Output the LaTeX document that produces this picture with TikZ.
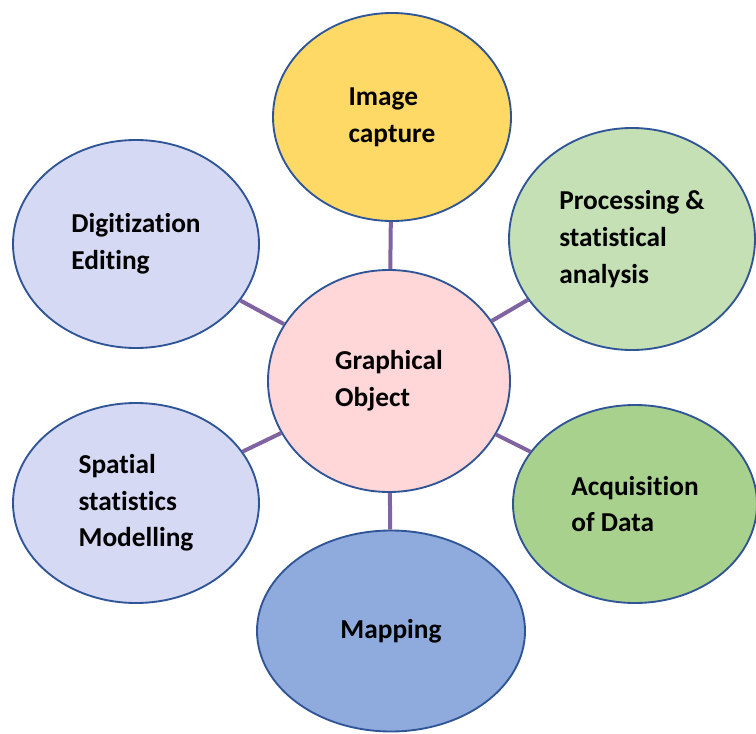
\documentclass[tikz,border=0pt]{standalone}
\usepackage{fontspec}
\setmainfont{Carlito}[RawFeature={-liga}]
\usetikzlibrary{shapes.geometric}
\definecolor{rimblue}{HTML}{2F5597}
\definecolor{linkpurple}{HTML}{8064A2}
\definecolor{hubpink}{HTML}{FFD7D9}
\definecolor{capyellow}{HTML}{FFD966}
\definecolor{lavender}{HTML}{D5D9F3}
\definecolor{palegreen}{HTML}{C5E0B4}
\definecolor{midgreen}{HTML}{A9D18E}
\definecolor{mapblue}{HTML}{8FAADC}

\tikzset{
  bubble/.style={ellipse, draw=rimblue, line width=1.4pt, inner sep=0pt, align=left,
    font=\bfseries\fontsize{20.5}{27.5}\selectfont},
  link/.style={draw=linkpurple, line width=3pt},
}

\begin{document}
\begin{tikzpicture}[x=0.75pt, y=-0.75pt]
	\useasboundingbox (0,0) rectangle (756,734);
	% hub and the six topics
	\node[bubble, fill=hubpink, minimum width=181.5pt, minimum height=166.5pt] (graph) at (389,381) {Graphical\\Object};
	\node[bubble, fill=capyellow, minimum width=178.5pt, minimum height=156pt] (capture) at (392,117) {Image\\capture};
	\node[bubble, fill=lavender, minimum width=184.5pt, minimum height=156pt] (digit) at (136,244) {Digitization\\Editing};
	\node[bubble, fill=palegreen, minimum width=184.5pt, minimum height=166.5pt] (process) at (632,239) {Processing \&\\statistical\\analysis};
	\node[bubble, fill=lavender, minimum width=184.5pt, minimum height=150pt] (spatial) at (136,503) {Spatial\\statistics\\Modelling};
	\node[bubble, fill=midgreen, minimum width=183pt, minimum height=148.5pt] (acquire) at (635,504) {Acquisition\\of Data};
	\node[bubble, fill=mapblue, minimum width=201pt, minimum height=150.75pt] (mapping) at (391,631) {Mapping};
	% spokes
	\draw[link] (graph) -- (capture);
	\draw[link] (graph) -- (digit);
	\draw[link] (graph) -- (process);
	\draw[link] (graph) -- (spatial);
	\draw[link] (graph) -- (acquire);
	\draw[link] (graph) -- (mapping);
\end{tikzpicture}
\end{document}
